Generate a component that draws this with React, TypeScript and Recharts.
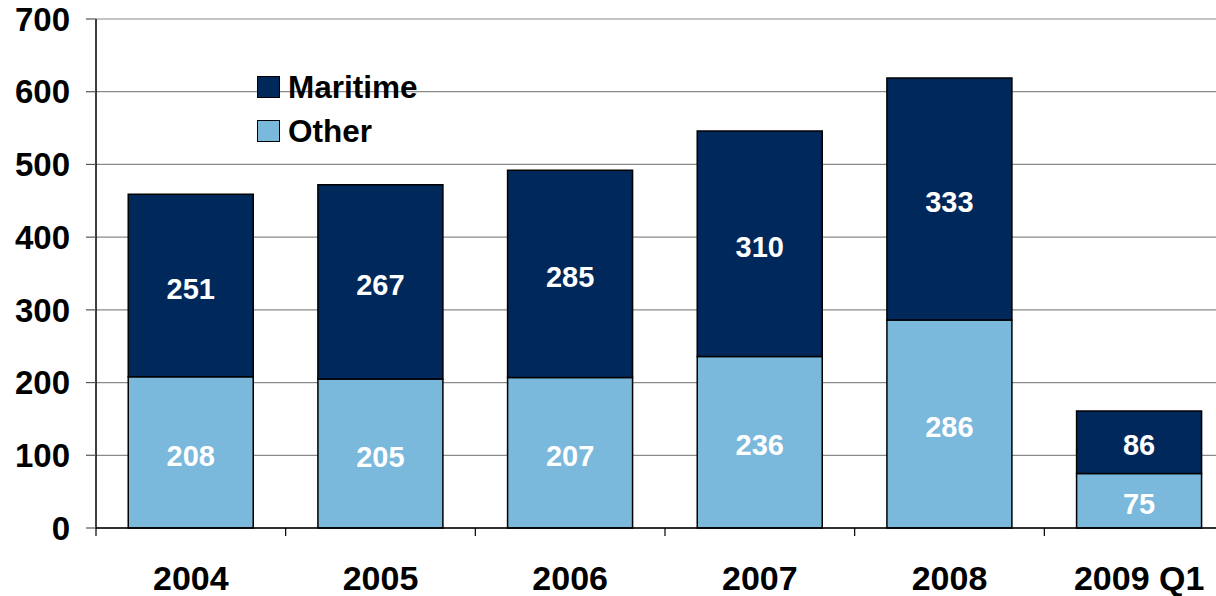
import { BarChart, Bar, XAxis, YAxis, CartesianGrid, LabelList } from "recharts";

const years = ["2004", "2005", "2006", "2007", "2008", "2009 Q1"];
const maritime = [251, 267, 285, 310, 333, 86];
const other = [208, 205, 207, 236, 286, 75];
const yTicks = [0, 100, 200, 300, 400, 500, 600, 700];

const NAVY = "#00285a";
const SKY = "#7ab8dc";
const FONT = "'Liberation Sans', Arial, sans-serif";

const W = 1234;
const H = 596;
const Y_AXIS_W = 96;
const HALF_BAND = (W - Y_AXIS_W) / years.length / 2;

const data = years.map((y, i) => ({ year: y, Maritime: maritime[i], Other: other[i] }));

const legendItems = [
    { name: "Maritime", color: NAVY },
    { name: "Other", color: SKY },
];

function LegendBox() {
    return (
        <div style={{ position: "absolute", left: 257, top: 65, fontFamily: FONT }}>
            {legendItems.map(l => (
                <div key={l.name} style={{ display: "flex", alignItems: "center", height: 44 }}>
                    <div style={{ width: 21, height: 20, background: l.color, border: "1.5px solid #000" }} />
                    <span style={{ marginLeft: 8, fontSize: 31.5, fontWeight: "bold", color: "#000" }}>{l.name}</span>
                </div>
            ))}
        </div>
    );
}

// category label plus a tick mark on the left edge of each band
function YearTick(props: any) {
    const { x, y, payload } = props;
    return (
        <g>
            <line x1={x - HALF_BAND} x2={x - HALF_BAND} y1={y - 8} y2={y} stroke="#000" strokeWidth={1.2} />
            <text x={x} y={y + 54} textAnchor="middle" fontFamily={FONT} fontWeight="bold" fontSize={34} fill="#000">
                {payload.value}
            </text>
        </g>
    );
}

export default function App() {
    return (
        <div style={{ position: "absolute", left: 0, top: 0, width: 1216, height: H, overflow: "hidden", background: "#fff" }}>
            <BarChart width={W} height={H} data={data} margin={{ top: 19, right: 0, bottom: 0, left: 0 }} barCategoryGap="17%">
                <CartesianGrid vertical={false} stroke="#8a8a8a" strokeWidth={1.2} />
                <XAxis
                    dataKey="year"
                    height={68}
                    tickSize={8}
                    tickMargin={0}
                    tickLine={false}
                    axisLine={{ stroke: "#000", strokeWidth: 1.5 }}
                    tick={<YearTick />}
                    interval={0}
                />
                <YAxis
                    width={Y_AXIS_W}
                    domain={[0, 700]}
                    ticks={yTicks}
                    interval={0}
                    tickSize={10}
                    tickMargin={16}
                    tickLine={{ stroke: "#555", strokeWidth: 1.2 }}
                    axisLine={{ stroke: "#000", strokeWidth: 1.5 }}
                    tick={{ fontFamily: FONT, fontWeight: "bold", fontSize: 33, fill: "#000" }}
                />
                <Bar dataKey="Other" stackId="a" fill={SKY} stroke="#000" strokeWidth={1.5} isAnimationActive={false}>
                    <LabelList dataKey="Other" position="center" dy={3} fill="#fff" fontFamily={FONT} fontWeight="bold" fontSize={29} />
                </Bar>
                <Bar dataKey="Maritime" stackId="a" fill={NAVY} stroke="#000" strokeWidth={1.5} isAnimationActive={false}>
                    <LabelList dataKey="Maritime" position="center" dy={3} fill="#fff" fontFamily={FONT} fontWeight="bold" fontSize={29} />
                </Bar>
            </BarChart>
            <LegendBox />
        </div>
    );
}
